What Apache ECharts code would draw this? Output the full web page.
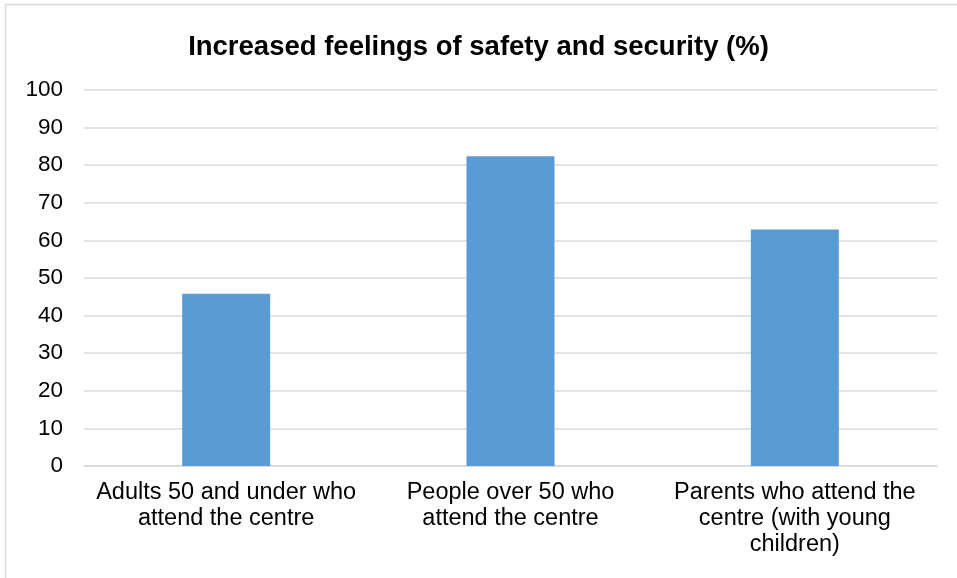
<!DOCTYPE html>
<html>
<head>
<meta charset="utf-8">
<script src="https://cdn.jsdelivr.net/npm/echarts@6/dist/echarts.min.js"></script>
<style>
html,body{margin:0;padding:0;background:#fff;}
#chart{width:957px;height:578px;}
</style>
</head>
<body>
<div id="chart"></div>
<script>
const title = 'Increased feelings of safety and security (%)';
const categories = [
  'Adults 50 and under who\nattend the centre',
  'People over 50 who\nattend the centre',
  'Parents who attend the\ncentre (with young\nchildren)'
];
const values = [45.8, 82.4, 62.9];
const yTicks = { min: 0, max: 100, interval: 10 };

const chart = echarts.init(document.getElementById('chart'), null, { renderer: 'canvas' });
chart.setOption({
  animation: false,
  backgroundColor: '#ffffff',
  title: {
    text: title,
    left: 'center',
    top: 28,
    textStyle: { fontFamily: 'Liberation Sans, Arial, sans-serif', fontSize: 27.5, fontWeight: 'bold', color: '#000' }
  },
  graphic: [{
    type: 'rect',
    shape: { x: 5.5, y: 4.5, width: 1000, height: 700 },
    style: { fill: 'none', stroke: '#d9d9d9', lineWidth: 1.5 },
    silent: true
  }],
  grid: { left: 84, right: 20, top: 90, bottom: 112, containLabel: false },
  xAxis: {
    type: 'category',
    data: categories,
    axisLine: { show: true, lineStyle: { color: '#d9d9d9', width: 1.5 } },
    axisTick: { show: false },
    axisLabel: {
      interval: 0,
      margin: 14,
      fontFamily: 'Liberation Sans, Arial, sans-serif',
      fontSize: 23.5,
      lineHeight: 26,
      color: '#000'
    }
  },
  yAxis: {
    type: 'value',
    min: yTicks.min,
    max: yTicks.max,
    interval: yTicks.interval,
    axisLine: { show: false },
    axisTick: { show: false },
    splitLine: { lineStyle: { color: '#d9d9d9', width: 1.5 } },
    axisLabel: {
      margin: 21,
      fontFamily: 'Liberation Sans, Arial, sans-serif',
      fontSize: 22.5,
      color: '#000'
    }
  },
  series: [{
    type: 'bar',
    data: values,
    barWidth: 88,
    itemStyle: { color: '#5b9bd5' }
  }]
});
</script>
</body>
</html>
